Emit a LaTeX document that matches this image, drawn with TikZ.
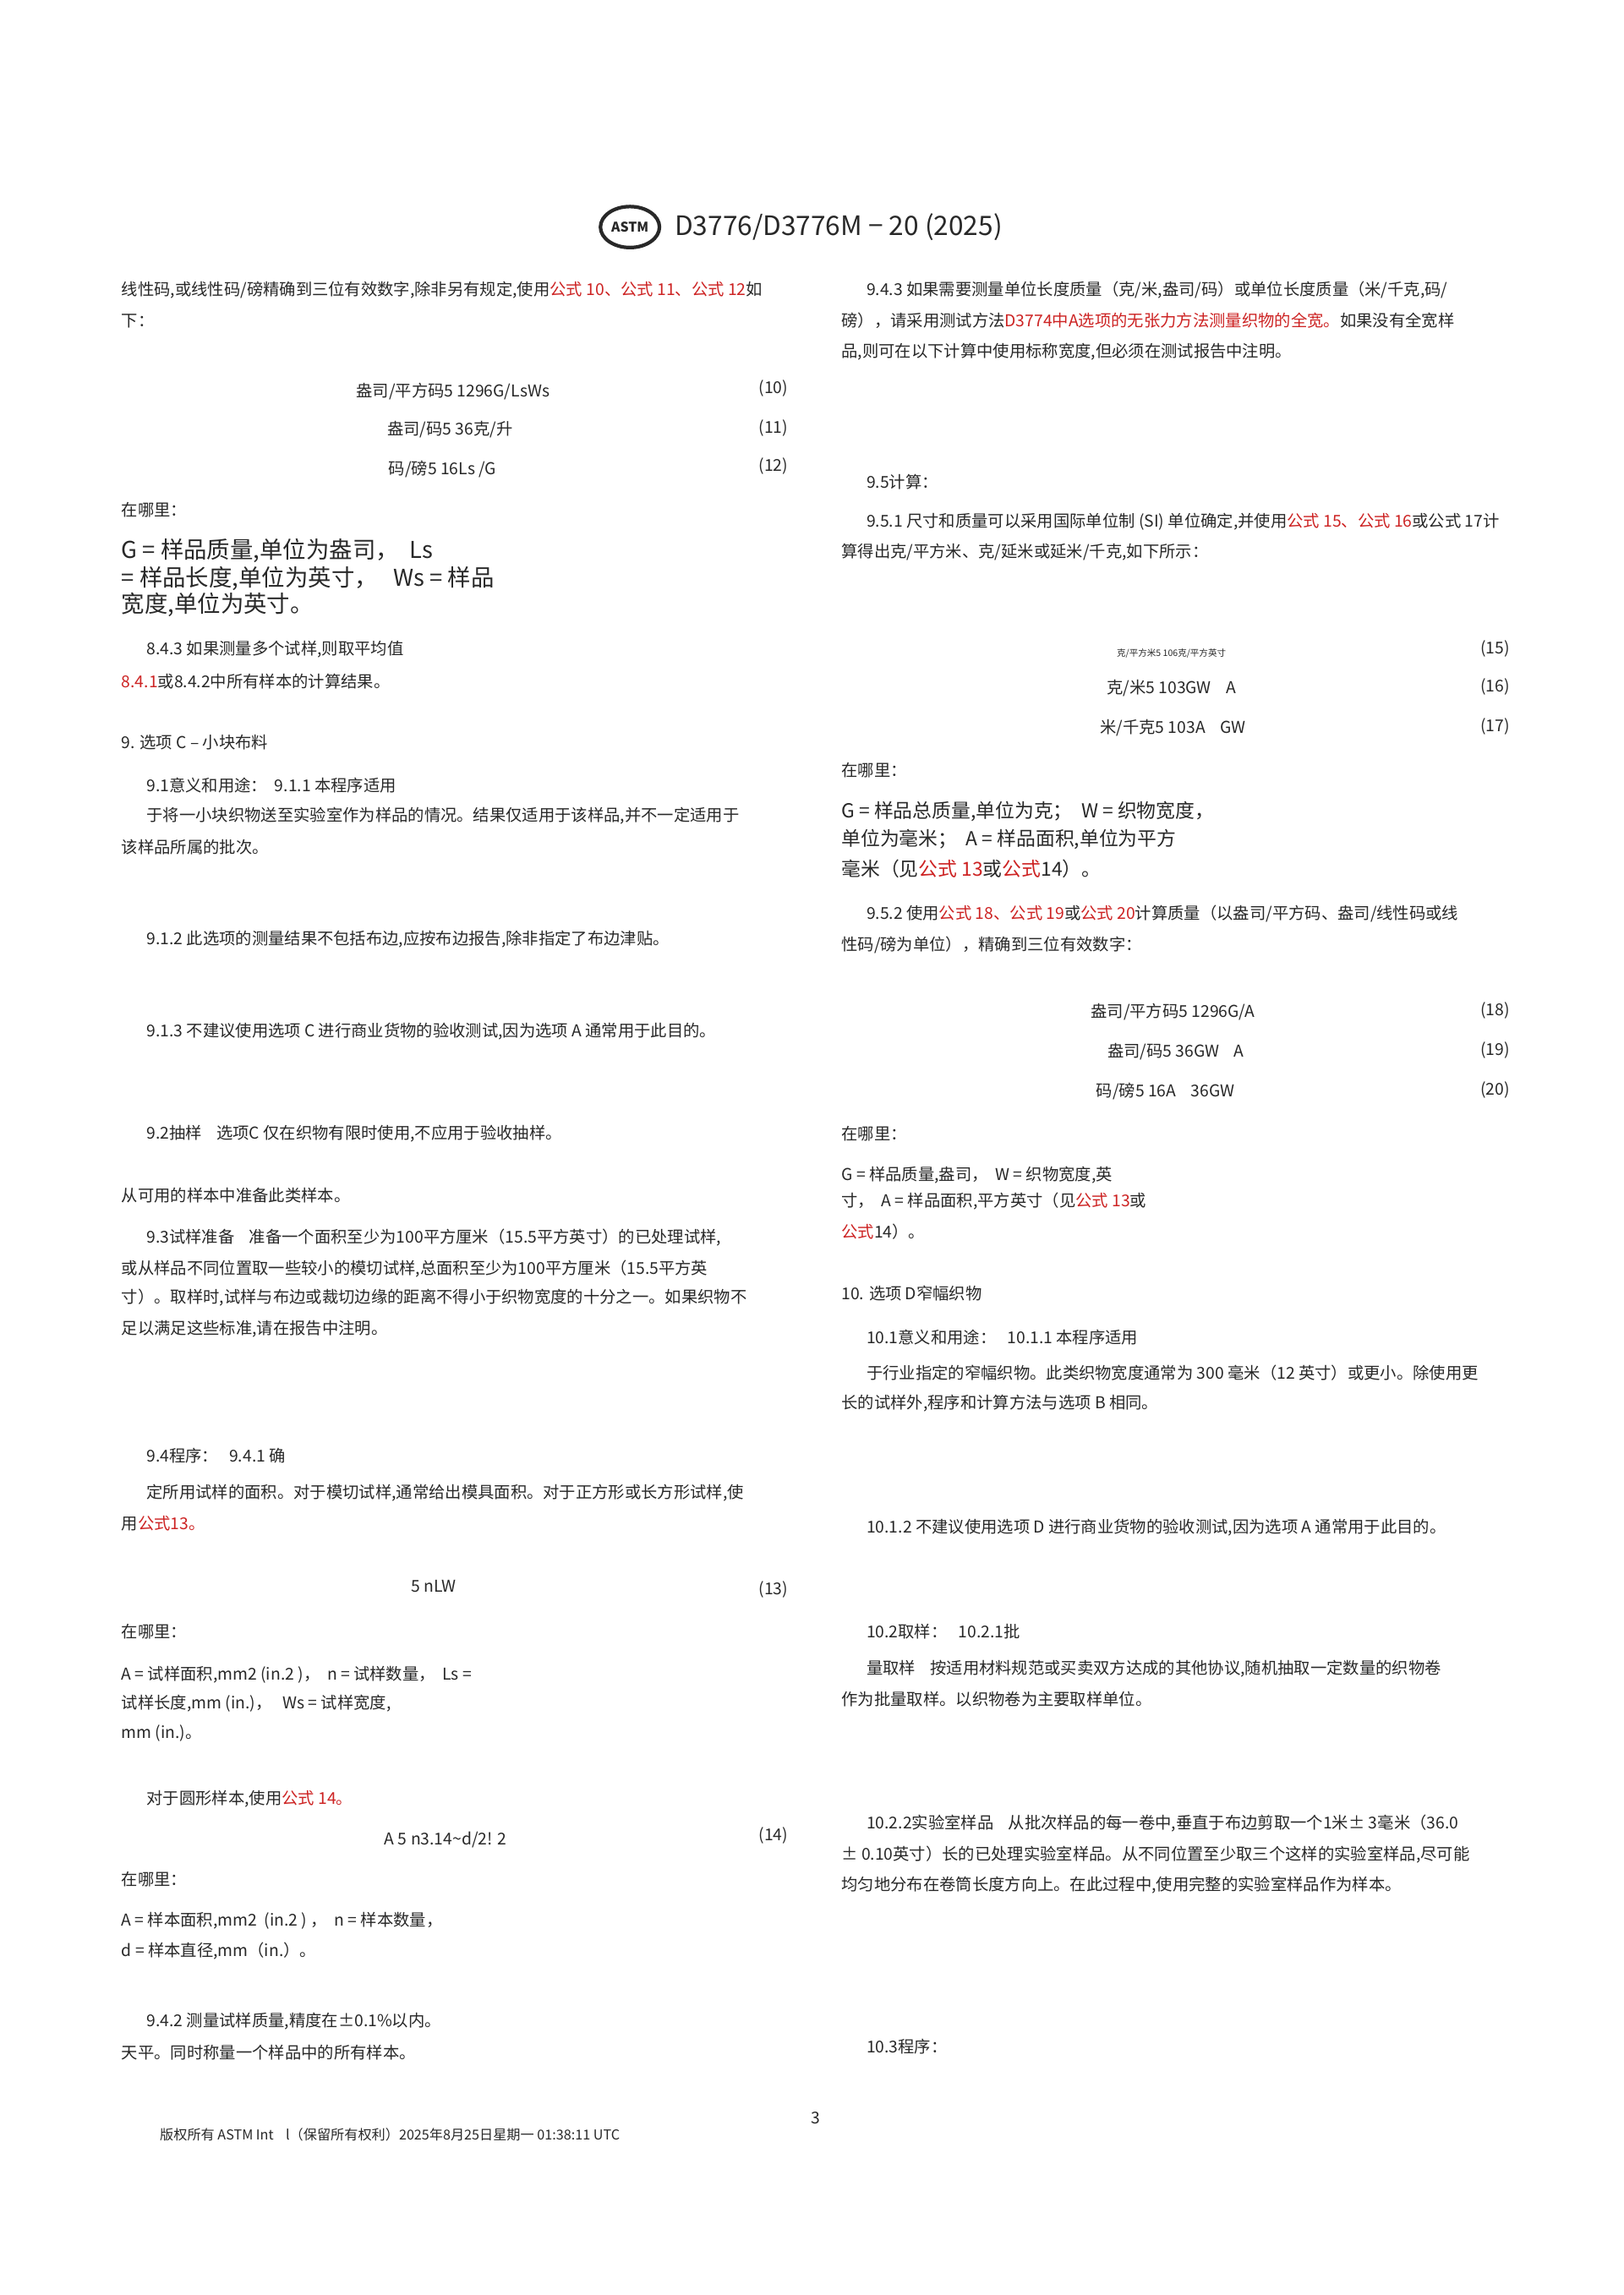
\documentclass[tikz,border=0pt]{standalone}
\usepackage{fontspec}
\setmainfont{Noto Sans CJK SC}
\definecolor{rd}{RGB}{205,35,35}
\definecolor{tx}{RGB}{40,40,40}
\newcommand{\R}[1]{\textcolor{rd}{#1}}
\begin{document}
\begin{tikzpicture}[x=0.01745cm,y=-0.01733cm,
  t/.style={anchor=west,inner sep=0,text=tx,font=\fontsize{5.5}{6}\selectfont},
  c/.style={anchor=center,inner sep=0,text=tx,font=\fontsize{5.5}{6}\selectfont},
  big/.style={anchor=west,inner sep=0,text=tx,font=\fontsize{7.8}{9}\selectfont},
  mid/.style={anchor=west,inner sep=0,text=tx,font=\fontsize{6.5}{7}\selectfont}]
\useasboundingbox[fill=white] (0,0) rectangle (1100.3,1566.7);
% header
\draw[line width=1.2pt,tx] (427,155) ellipse (20 and 14);
\node[c,font=\fontsize{4.5}{5}\bfseries] (logo) at (427,155) {ASTM};
\node[anchor=west,inner sep=0,text=tx,font=\fontsize{9}{10}\selectfont] (hd) at (457,155) {D3776/D3776M − 20 (2025)};
% left column
\node[t] (l1) at (82,198) {线性码,或线性码/磅精确到三位有效数字,除非另有规定,使用\R{公式 10、公式 11、公式 12}如};
\node[t] (l2) at (82,219) {下：};
\node[c] (e10) at (307,267) {盎司/平方码5 1296G/LsWs};
\node[t] (n10) at (514,265) {(10)};
\node[c] (e11) at (305,293) {盎司/码5 36克/升};
\node[t] (n11) at (514,292) {(11)};
\node[c] (e12) at (300,320) {码/磅5 16Ls /G};
\node[t] (n12) at (514,318) {(12)};
\node[t] (l3) at (82,348) {在哪里：};
\node[big] (l4) at (82,376) {G = 样品质量,单位为盎司，\ \ Ls};
\node[big] (l5) at (82,395) {= 样品长度,单位为英寸，\ \ \ Ws = 样品};
\node[big] (l6) at (82,413) {宽度,单位为英寸。};
\node[t] (l7) at (99,443) {8.4.3 如果测量多个试样,则取平均值};
\node[t] (l8) at (82,465) {\R{8.4.1}或8.4.2中所有样本的计算结果。};
\node[t] (l9) at (82,507) {9. 选项 C – 小块布料};
\node[t] (l10) at (99,536) {9.1意义和用途：\ \ 9.1.1 本程序适用};
\node[t] (l11) at (99,557) {于将一小块织物送至实验室作为样品的情况。结果仅适用于该样品,并不一定适用于};
\node[t] (l12) at (82,578) {该样品所属的批次。};
\node[t] (l13) at (99,641) {9.1.2 此选项的测量结果不包括布边,应按布边报告,除非指定了布边津贴。};
\node[t] (l14) at (99,704) {9.1.3 不建议使用选项 C 进行商业货物的验收测试,因为选项 A 通常用于此目的。};
\node[t] (l15) at (99,774) {9.2抽样\ \ \ \ 选项C 仅在织物有限时使用,不应用于验收抽样。};
\node[t] (l16) at (82,816) {从可用的样本中准备此类样本。};
\node[t] (l17) at (99,845) {9.3试样准备\ \ \ \ 准备一个面积至少为100平方厘米（15.5平方英寸）的已处理试样,};
\node[t] (l18) at (82,866) {或从样品不同位置取一些较小的模切试样,总面积至少为100平方厘米（15.5平方英};
\node[t] (l19) at (82,886) {寸）。取样时,试样与布边或裁切边缘的距离不得小于织物宽度的十分之一。如果织物不};
\node[t] (l20) at (82,907) {足以满足这些标准,请在报告中注明。};
\node[t] (l21) at (99,994) {9.4程序：\ \ \ 9.4.1 确};
\node[t] (l22) at (99,1019) {定所用试样的面积。对于模切试样,通常给出模具面积。对于正方形或长方形试样,使};
\node[t] (l23) at (82,1040) {用\R{公式13。}};
\node[c] (e13) at (294,1083) {5 nLW};
\node[t] (n13) at (514,1085) {(13)};
\node[t] (l24) at (82,1114) {在哪里：};
\node[t] (l25) at (82,1143) {A = 试样面积,mm2 (in.2 )，\ \ n = 试样数量，\ \ Ls =};
\node[t] (l26) at (82,1163) {试样长度,mm (in.)，\ \ \ Ws = 试样宽度,};
\node[t] (l27) at (82,1183) {mm (in.)。};
\node[t] (l28) at (99,1228) {对于圆形样本,使用\R{公式 14。}};
\node[c] (e14) at (302,1256) {A 5 n3.14\textasciitilde d/2! 2};
\node[t] (n14) at (514,1253) {(14)};
\node[t] (l29) at (82,1283) {在哪里：};
\node[t] (l30) at (82,1311) {A = 样本面积,mm2\ \ (in.2 ) ，\ \ n = 样本数量，};
\node[t] (l31) at (82,1332) {d = 样本直径,mm（in.）。};
\node[t] (l32) at (99,1380) {9.4.2 测量试样质量,精度在±0.1\%以内。};
\node[t] (l33) at (82,1401) {天平。同时称量一个样品中的所有样本。};
\node[t,font=\fontsize{4.6}{5}\selectfont] (ft) at (108,1457) {版权所有 ASTM Int\ \ \ \ l（保留所有权利）2025年8月25日星期一 01:38:11 UTC};
\node[c] (pg) at (553,1446) {3};
% right column
\node[t] (r1) at (587,198) {9.4.3 如果需要测量单位长度质量（克/米,盎司/码）或单位长度质量（米/千克,码/};
\node[t] (r2) at (570,219) {磅），请采用测试方法\R{D3774中A选项的无张力方法测量织物的全宽。}如果没有全宽样};
\node[t] (r3) at (570,240) {品,则可在以下计算中使用标称宽度,但必须在测试报告中注明。};
\node[t] (r4) at (587,329) {9.5计算：};
\node[t] (r5) at (587,356) {9.5.1 尺寸和质量可以采用国际单位制 (SI) 单位确定,并使用\R{公式 15、公式 16}或公式 17计};
\node[t] (r6) at (570,377) {算得出克/平方米、克/延米或延米/千克,如下所示：};
\node[c,font=\fontsize{3}{3}\selectfont] (e15) at (794,446) {克/平方米5 106克/平方英寸};
\node[t] (n15) at (1003,443) {(15)};
\node[c] (e16) at (794,470) {克/米5 103GW\ \ \ \ A};
\node[t] (n16) at (1003,469) {(16)};
\node[c] (e17) at (795,497) {米/千克5 103A\ \ \ \ GW};
\node[t] (n17) at (1003,496) {(17)};
\node[t] (r7) at (570,526) {在哪里：};
\node[mid] (r8) at (570,554) {G = 样品总质量,单位为克；\ \ W = 织物宽度，};
\node[mid] (r9) at (570,573) {单位为毫米；\ \ A = 样品面积,单位为平方};
\node[mid] (r10) at (570,593) {毫米（见\R{公式 13}或\R{公式}14）。};
\node[t] (r11) at (587,624) {9.5.2 使用\R{公式 18、公式 19}或\R{公式 20}计算质量（以盎司/平方码、盎司/线性码或线};
\node[t] (r12) at (570,645) {性码/磅为单位），精确到三位有效数字：};
\node[c] (e18) at (795,691) {盎司/平方码5 1296G/A};
\node[t] (n18) at (1003,690) {(18)};
\node[c] (e19) at (797,718) {盎司/码5 36GW\ \ \ \ A};
\node[t] (n19) at (1003,717) {(19)};
\node[c] (e20) at (790,745) {码/磅5 16A\ \ \ \ 36GW};
\node[t] (n20) at (1003,744) {(20)};
\node[t] (r13) at (570,774) {在哪里：};
\node[t] (r14) at (570,802) {G = 样品质量,盎司，\ \ W = 织物宽度,英};
\node[t] (r15) at (570,820) {寸，\ \ A = 样品面积,平方英寸（见\R{公式 13}或};
\node[t] (r16) at (570,841) {\R{公式}14）。};
\node[t] (r17) at (570,883) {10. 选项 D窄幅织物};
\node[t] (r18) at (587,913) {10.1意义和用途：\ \ \ 10.1.1 本程序适用};
\node[t] (r19) at (587,937) {于行业指定的窄幅织物。此类织物宽度通常为 300 毫米（12 英寸）或更小。除使用更};
\node[t] (r20) at (570,958) {长的试样外,程序和计算方法与选项 B 相同。};
\node[t] (r21) at (587,1043) {10.1.2 不建议使用选项 D 进行商业货物的验收测试,因为选项 A 通常用于此目的。};
\node[t] (r22) at (587,1114) {10.2取样：\ \ \ 10.2.1批};
\node[t] (r23) at (587,1139) {量取样\ \ \ \ 按适用材料规范或买卖双方达成的其他协议,随机抽取一定数量的织物卷};
\node[t] (r24) at (570,1160) {作为批量取样。以织物卷为主要取样单位。};
\node[t] (r25) at (587,1245) {10.2.2实验室样品\ \ \ \ 从批次样品的每一卷中,垂直于布边剪取一个1米± 3毫米（36.0};
\node[t] (r26) at (570,1266) {± 0.10英寸）长的已处理实验室样品。从不同位置至少取三个这样的实验室样品,尽可能};
\node[t] (r27) at (570,1287) {均匀地分布在卷筒长度方向上。在此过程中,使用完整的实验室样品作为样本。};
\node[t] (r28) at (587,1397) {10.3程序：};
\end{tikzpicture}
\end{document}
